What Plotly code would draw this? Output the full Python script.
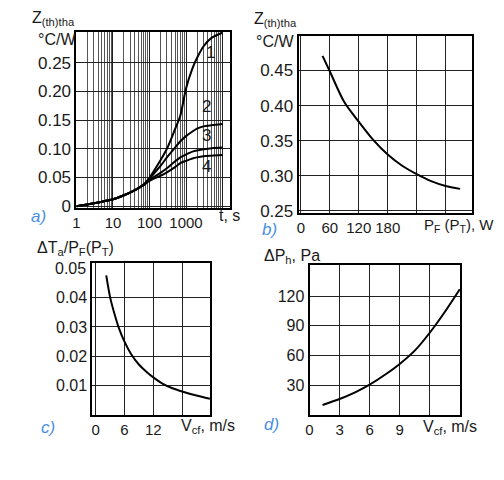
import plotly.graph_objects as go

# --- a) Z(th)tha versus time, 4 curves
t_a = [1, 3, 10, 20, 40, 70, 100, 200, 300, 500, 700, 1000, 1500, 2000, 3000, 5000, 10000]
z_a1 = [0, 0.005, 0.012, 0.019, 0.028, 0.038, 0.050, 0.080, 0.100, 0.134, 0.158, 0.205, 0.240, 0.258, 0.278, 0.293, 0.302]
z_a2 = [0, 0.005, 0.012, 0.019, 0.028, 0.038, 0.048, 0.070, 0.085, 0.102, 0.113, 0.122, 0.130, 0.135, 0.139, 0.141, 0.143]
z_a3 = [0, 0.005, 0.012, 0.019, 0.028, 0.037, 0.046, 0.058, 0.066, 0.078, 0.085, 0.090, 0.095, 0.097, 0.099, 0.101, 0.102]
z_a4 = [0, 0.005, 0.012, 0.019, 0.028, 0.037, 0.044, 0.053, 0.059, 0.068, 0.075, 0.079, 0.083, 0.085, 0.087, 0.088, 0.089]
curve_names = ["1", "2", "3", "4"]
a_xticks = [1, 10, 100, 1000]

# --- b) Z(th)tha versus power
p_b = [45, 60, 90, 120, 150, 180, 210, 240, 270, 300, 330]
z_b = [0.471, 0.449, 0.405, 0.377, 0.351, 0.330, 0.314, 0.302, 0.292, 0.285, 0.281]
b_xticks = [0, 60, 120, 180]
b_yticks = [0.25, 0.30, 0.35, 0.40, 0.45]

# --- c) dTa/PF versus air speed
v_c = [2.2, 3.0, 4.0, 4.8, 6, 7.4, 9, 10.5, 12, 14, 16, 18, 21, 23.8]
r_c = [0.0476, 0.0402, 0.0340, 0.0298, 0.0250, 0.0207, 0.0172, 0.0148, 0.0128, 0.0106, 0.0091, 0.0080, 0.0066, 0.0055]
c_xticks = [0, 6, 12]
c_yticks = [0.01, 0.02, 0.03, 0.04]

# --- d) pressure drop versus air speed
v_d = [1.3, 3, 4.6, 6, 7.6, 9, 10.6, 12, 13.5, 15]
dp_d = [10, 16, 23, 30.5, 41, 51.5, 66, 83, 104, 127]
d_xticks = [0, 3, 6, 9]
d_yticks = [30, 60, 90, 120]

# page body has an 8px margin, so the figure is a bit smaller and offset
OFF = 8
W, H = 504 - 2 * OFF, 480 - 2 * OFF
FONT = "Liberation Sans, Arial, sans-serif"
INK = "#1a1a1a"
BLUE = "#4a90e2"


def px(x):
    return (x - OFF) / W


def py(y):
    return 1 - (y - OFF) / H


fig = go.Figure()

line = dict(color="black", width=2, shape="spline", smoothing=0.8)
for z in [z_a1, z_a2, z_a3, z_a4]:
    fig.add_trace(go.Scatter(x=t_a, y=z, mode="lines", line=line, xaxis="x", yaxis="y"))
fig.add_trace(go.Scatter(x=p_b, y=z_b, mode="lines", line=line, xaxis="x2", yaxis="y2"))
fig.add_trace(go.Scatter(x=v_c, y=r_c, mode="lines", line=line, xaxis="x3", yaxis="y3"))
fig.add_trace(go.Scatter(x=v_d, y=dp_d, mode="lines", line=line, xaxis="x4", yaxis="y4"))

box = dict(showline=True, linecolor="black", linewidth=2, mirror=True, ticks="", zeroline=False,
           gridcolor="#222", gridwidth=1, tickfont=dict(family=FONT, size=16, color=INK))
xfont = dict(family=FONT, size=15, color=INK)

minor_vals = [m * 10 ** k for k in range(5) for m in range(2, 10)]

fig.update_layout(
    width=W, height=H, margin=dict(l=0, r=0, t=0, b=0),
    paper_bgcolor="white", plot_bgcolor="white", showlegend=False,
    xaxis=dict(box, type="log", domain=[px(73), px(228)], range=[0, 4.21], anchor="y",
               tickvals=a_xticks + [10000], ticktext=[str(v) for v in a_xticks] + [""],
               minor=dict(tickvals=minor_vals, showgrid=True, gridcolor="#555", gridwidth=1, ticks=""),
               tickfont=xfont),
    yaxis=dict(box, domain=[py(212), py(32)], range=[-0.004, 0.304], anchor="x",
               tickvals=[0, 0.05, 0.10, 0.15, 0.20, 0.25],
               ticktext=["0", "0.05", "0.10", "0.15", "0.20", "0.25"],
               tickfont=dict(family=FONT, size=17, color=INK)),
    xaxis2=dict(box, domain=[px(297), px(472)], range=[-4.5, 355], anchor="y2",
                tickvals=b_xticks + [240, 300], ticktext=[str(v) for v in b_xticks] + ["", ""],
                tickfont=xfont),
    yaxis2=dict(box, domain=[py(217), py(36)], range=[0.246, 0.5], anchor="x2",
                tickvals=b_yticks, ticktext=["%.2f" % v for v in b_yticks],
                tickfont=dict(family=FONT, size=17, color=INK)),
    xaxis3=dict(box, domain=[px(89), px(208)], range=[-0.7, 23.9], anchor="y3",
                tickvals=c_xticks + [18], ticktext=[str(v) for v in c_xticks] + [""], tickfont=xfont),
    yaxis3=dict(box, domain=[py(422), py(267)], range=[0, 0.052], anchor="x3",
                tickvals=c_yticks, ticktext=["%.2f" % v for v in c_yticks]),
    xaxis4=dict(box, domain=[px(308), px(460)], range=[0, 15.05], anchor="y4",
                tickvals=d_xticks + [12], ticktext=[str(v) for v in d_xticks] + [""], tickfont=xfont),
    yaxis4=dict(box, domain=[py(422), py(270)], range=[0, 151], anchor="x4",
                tickvals=d_yticks, ticktext=[str(v) for v in d_yticks]),
)


def note(text, x, y, size=16, color=INK, italic=False, xanchor="center"):
    fig.add_annotation(text=text, x=px(x), y=py(y), xref="paper", yref="paper", showarrow=False,
                       xanchor=xanchor, yanchor="middle", borderpad=0,
                       font=dict(family=FONT, size=size, color=color, style="italic" if italic else "normal"))


# axis titles
note("Z<sub>(th)tha</sub>", 27, 19, size=16, xanchor="left")
note("°C/W", 33, 40, xanchor="left")
note("t, s", 216, 219, xanchor="left")
note("Z<sub>(th)tha</sub>", 251, 20, size=16, xanchor="left")
note("°C/W", 253, 42, xanchor="left")
note("P<sub>F</sub> (P<sub>T</sub>), W", 422, 229, size=15, xanchor="left")
note("ΔT<sub>a</sub>/P<sub>F</sub>(P<sub>T</sub>)", 32, 253, xanchor="left")
note("0.05", 84, 273, xanchor="right")
note("V<sub>cf</sub>, m/s", 177, 434, xanchor="left")
note("ΔP<sub>h</sub>, Pa", 261, 261, xanchor="left")
note("V<sub>cf</sub>, m/s", 421, 435, xanchor="left")

# panel letters
note("a)", 35, 220, size=17, color=BLUE, italic=True)
note("b)", 268, 233, size=17, color=BLUE, italic=True)
note("c)", 44, 435, size=17, color=BLUE, italic=True)
note("d)", 270, 432, size=17, color=BLUE, italic=True)

# curve numbers in a)
for name, (cx, cy) in zip(curve_names, [(208, 53), (204, 108), (204, 138), (204, 169)]):
    note(name, cx, cy, size=17)

fig.write_html("out.html")
